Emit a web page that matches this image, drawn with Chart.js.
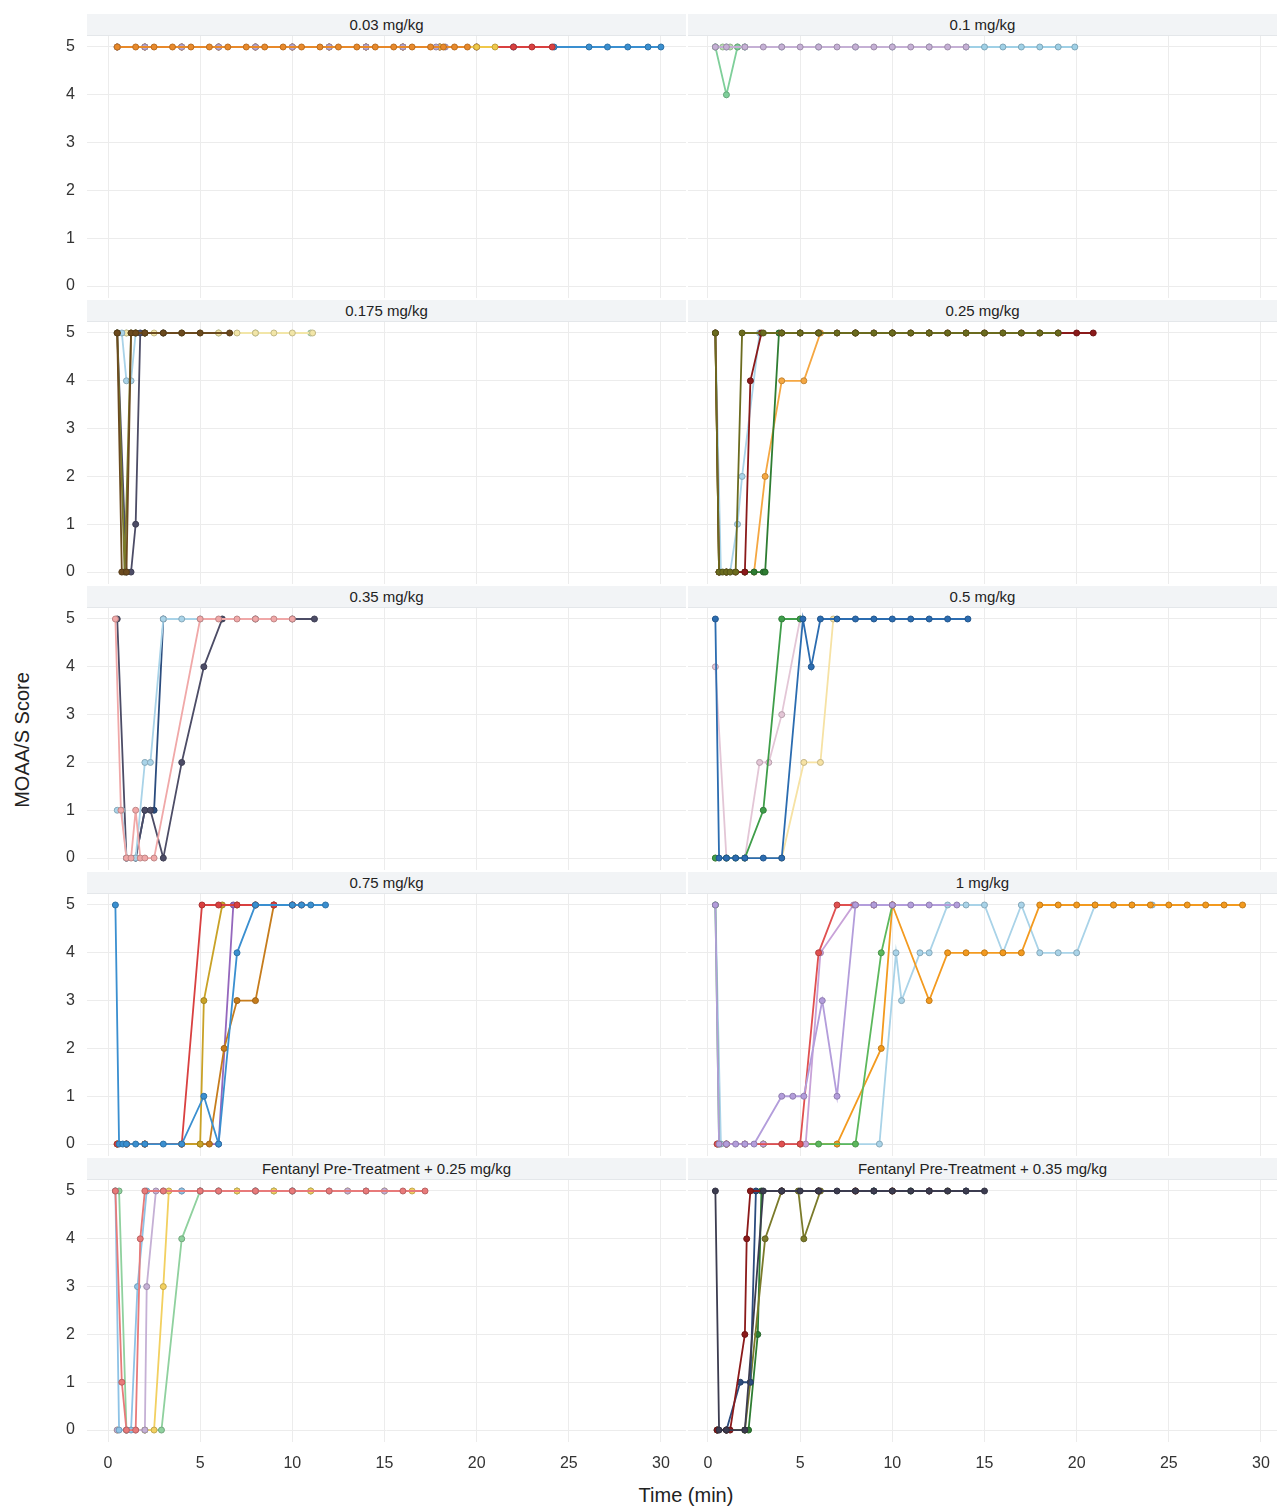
<!DOCTYPE html>
<html><head><meta charset="utf-8">
<script src="https://cdn.jsdelivr.net/npm/chart.js@4.4.0/dist/chart.umd.min.js"></script>
<style>
body{margin:0;background:#fff;width:1277px;height:1509px;position:relative;font-family:"Liberation Sans",Arial,sans-serif;overflow:hidden}
.hdr{position:absolute;height:21px;background:#f2f4f6;border-bottom:1px solid #e4e7ea;font-size:15px;color:#222;text-align:center;line-height:21px}
canvas{position:absolute}
.lab{position:absolute;color:#222}
</style></head><body>
<div class="lab" style="left:0;top:740px;transform:translate(-50%,-50%) rotate(-90deg);margin-left:22px;font-size:20px;white-space:nowrap">MOAA/S Score</div>
<div class="lab" style="left:686px;top:1495px;transform:translate(-50%,-50%);font-size:20px">Time (min)</div>
<script>
const panelTitles=["0.03 mg/kg","0.1 mg/kg","0.175 mg/kg","0.25 mg/kg","0.35 mg/kg","0.5 mg/kg","0.75 mg/kg","1 mg/kg","Fentanyl Pre-Treatment + 0.25 mg/kg","Fentanyl Pre-Treatment + 0.35 mg/kg"];
const xTicks=[0,5,10,15,20,25,30];
const yTicks=[0,1,2,3,4,5];

// Panel 1: 0.03 mg/kg (first series drawn on top)
const p1Colors=["#e8892a","#b9a6cf","#f0c84a","#d94040","#3a8fd0"];
const p1Times=[
 [0.5,1.5,2.5,3.5,4.5,5.5,6.5,7.5,8.5,9.5,10.5,11.5,12.5,13.5,14.5,15.5,16.5,17.5,18.2,18.8,19.5],
 [0.5,2,4,6,8,10,12,14,16,17.8,18.3],
 [0.5,2,4,6,8,10,12,14,16,18,20,21],
 [0.5,2,4,6,8,10,12,14,16,18,20,22,23,24.1],
 [0.5,2,4,6,8,10,12,14,16,18,20,22,24.2,26.1,27.1,28.2,29.3,30]];
const p1Scores=[
 [5,5,5,5,5,5,5,5,5,5,5,5,5,5,5,5,5,5,5,5,5],
 [5,5,5,5,5,5,5,5,5,5,5],
 [5,5,5,5,5,5,5,5,5,5,5,5],
 [5,5,5,5,5,5,5,5,5,5,5,5,5,5],
 [5,5,5,5,5,5,5,5,5,5,5,5,5,5,5,5,5,5]];

// Panel 2: 0.1 mg/kg
const p2Colors=["#c5b0d5","#7fcf9a","#b8e0b0","#9fd0e6"];
const p2Times=[
 [0.4,1,2,3,4,5,6,7,8,9,10,11,12,13,14],
 [0.4,1,1.6,2],
 [0.4,0.8,1.2,1.6],
 [0.4,1,2,4,6,8,10,12,14,15,16,17,18,19,19.9]];
const p2Scores=[
 [5,5,5,5,5,5,5,5,5,5,5,5,5,5,5],
 [5,4,5,5],
 [5,5,5,5],
 [5,5,5,5,5,5,5,5,5,5,5,5,5,5,5]];

// Panel 3: 0.175 mg/kg
const p3Colors=["#6b4a1e","#7a7a2a","#4c4c66","#a9d3e8","#f2e6a8","#bfe3b8"];
const p3Times=[
 [0.5,0.75,1,1.25,1.5,2,3,4,5,6.6],
 [0.5,0.9,1.25,1.5,2],
 [0.5,1,1.25,1.5,1.75,2,3],
 [0.5,0.75,1,1.25,1.5,2],
 [0.5,1,1.5,2,2.5,3,4,5,6,7,8,9,10,11.1],
 [0.5,1,2,3,4,6,8,11]];
const p3Scores=[
 [5,0,0,5,5,5,5,5,5,5],
 [5,0,5,5,5],
 [5,0,0,1,5,5,5],
 [5,5,4,4,5,5],
 [5,5,5,5,5,5,5,5,5,5,5,5,5,5],
 [5,5,5,5,5,5,5,5]];

// Panel 4: 0.25 mg/kg
const p4Colors=["#6b6b1e","#8b1a1a","#a9d3e8","#2e7d32","#f5a742"];
const p4Times=[
 [0.4,0.6,0.8,1,1.2,1.5,1.85,3,4,5,6,7,8,9,10,11,12,13,14,15,16,17,18,19],
 [0.4,0.6,1,1.5,2,2.3,2.9,4,5,6,7,8,9,10,11,12,13,14,15,16,17,18,19,20,20.9],
 [0.4,0.7,1,1.2,1.6,1.85,2.8,4,5,6],
 [0.4,0.6,1,2,2.5,3,3.1,3.85,5,6,8,10,12],
 [0.4,0.6,1,2,2.5,3.1,4,5.2,6.1,8,10,12,14]];
const p4Scores=[
 [5,0,0,0,0,0,5,5,5,5,5,5,5,5,5,5,5,5,5,5,5,5,5,5],
 [5,0,0,0,0,4,5,5,5,5,5,5,5,5,5,5,5,5,5,5,5,5,5,5,5],
 [5,0,0,0,1,2,5,5,5,5],
 [5,0,0,0,0,0,0,5,5,5,5,5,5],
 [5,0,0,0,0,2,4,4,5,5,5,5,5]];

// Panel 5: 0.35 mg/kg
const p5Colors=["#f0a8a8","#a9d3e8","#4c4c66","#2b4c7e"];
const p5Times=[
 [0.4,0.7,1,1.25,1.5,1.75,2,2.5,5,6,7,8,9,10],
 [0.5,0.75,1,1.5,2,2.3,3,4,5],
 [0.5,1,1.5,2,2.3,3,4,5.2,6.2,8,10,11.2],
 [1,1.5,2,2.5,3]];
const p5Scores=[
 [5,1,0,0,1,0,0,0,5,5,5,5,5,5],
 [1,1,0,0,2,2,5,5,5],
 [5,0,0,1,1,0,2,4,5,5,5,5],
 [0,0,1,1,5]];

// Panel 6: 0.5 mg/kg
const p6Colors=["#2b6cb0","#3f9e4a","#e3c6d6","#f6e2a4"];
const p6Times=[
 [0.4,0.6,1,1.5,2,3,4,5.15,5.6,6.1,7,8,9,10,11,12,13,14.1],
 [0.4,1,1.5,2,3,4,5],
 [0.4,1,2,2.8,3.3,4,5],
 [0.4,1,2,4,5.2,6.1,6.8]];
const p6Scores=[
 [5,0,0,0,0,0,0,5,4,5,5,5,5,5,5,5,5,5],
 [0,0,0,0,1,5,5],
 [4,0,0,2,2,3,5],
 [0,0,0,0,2,2,5]];

// Panel 7: 0.75 mg/kg
const p7Colors=["#3a8fd0","#d94040","#c9a227","#c67c1c","#9467bd"];
const p7Times=[
 [0.4,0.6,0.8,1,1.5,2,3,4,5.2,6,7,8,10,10.5,11,11.8],
 [0.5,1,2,4,5.1,6,7,8,9,10,10.5],
 [0.5,1,2,4,5,5.2,6.2,7,8],
 [0.5,1,2,4,5,5.5,6.3,7,8,9,10],
 [0.5,1,6,6.8,8,9,10]];
const p7Scores=[
 [5,0,0,0,0,0,0,0,1,0,4,5,5,5,5,5],
 [0,0,0,0,5,5,5,5,5,5,5],
 [0,0,0,0,0,3,5,5,5],
 [0,0,0,0,0,0,2,3,3,5,5],
 [0,0,0,5,5,5,5]];

// Panel 8: 1 mg/kg
const p8Colors=["#b39ddb","#e05050","#c8a2d8","#5cb85c","#f39a1f","#a9d3e8"];
const p8Times=[
 [0.4,0.6,1,1.5,2,2.5,4,4.6,5.2,6.2,7,8,9,10,11,12,13.5],
 [0.5,1,2,4,5,6,7,8,9,10],
 [0.5,1,3,5.3,6.1,7.9,9,10],
 [0.4,0.6,1,3,6,8,9.4,10],
 [0.5,1,3,5,7,9.4,10,12,13,14,15,16,17,18,19,20,21,22,23,24,25,26,27,28,29],
 [0.4,0.7,1,2,5,7,9.3,10.2,10.5,11.5,12,13,14,15,16,17,18,19,20,21,22,23,24.1]];
const p8Scores=[
 [5,0,0,0,0,0,1,1,1,3,1,5,5,5,5,5,5],
 [0,0,0,0,0,4,5,5,5,5],
 [0,0,0,0,4,5,5,5],
 [5,0,0,0,0,0,4,5],
 [0,0,0,0,0,2,5,3,4,4,4,4,4,5,5,5,5,5,5,5,5,5,5,5,5],
 [5,0,0,0,0,0,0,4,3,4,4,5,5,5,4,5,4,4,4,5,5,5,5]];

// Panel 9: Fentanyl + 0.25 mg/kg
const p9Colors=["#e87a7a","#8ec3e6","#c5b0d5","#f2d060","#8fd19e"];
const p9Times=[
 [0.4,0.75,1,1.5,1.75,2,3,5,6,8,10,12,14,16,17.2],
 [0.4,0.6,1,1.25,1.6,2.1,3,4,5,6,8,10,12,14],
 [0.5,1,1.5,2,2.1,2.6,4,5,8,10,13,15],
 [0.5,1,2,2.5,3,3.3,5,7,9,11,13,15,16.5],
 [0.4,0.6,1,2,2.9,4,5,6,7,8,9,10,11]];
const p9Scores=[
 [5,1,0,0,4,5,5,5,5,5,5,5,5,5,5],
 [5,0,0,0,3,5,5,5,5,5,5,5,5,5],
 [0,0,0,0,3,5,5,5,5,5,5,5],
 [0,0,0,0,3,5,5,5,5,5,5,5,5],
 [5,5,0,0,0,4,5,5,5,5,5,5,5]];

// Panel 10: Fentanyl + 0.35 mg/kg
const p10Colors=["#3c3c50","#8b1a1a","#2b4c7e","#7a7a2a","#2e7d32"];
const p10Times=[
 [0.4,0.6,1,2,3,4,5,6,7,8,9,10,11,12,13,14,15],
 [0.5,1,1.2,2,2.1,2.3,4,6,8,10,12],
 [0.5,1,1.75,2.3,2.6,4,6,9,12,14],
 [0.5,1,2,2.3,3.1,4,4.9,5.2,6.1,8,10,13],
 [0.5,1,2,2.2,2.7,2.9,4,6,9,11]];
const p10Scores=[
 [5,0,0,0,5,5,5,5,5,5,5,5,5,5,5,5,5],
 [0,0,0,2,4,5,5,5,5,5,5],
 [0,0,1,1,5,5,5,5,5,5],
 [0,0,0,1,4,5,5,4,5,5,5,5],
 [0,0,0,0,2,5,5,5,5,5]];

const panels=[[p1Times,p1Scores,p1Colors],[p2Times,p2Scores,p2Colors],[p3Times,p3Scores,p3Colors],[p4Times,p4Scores,p4Colors],[p5Times,p5Scores,p5Colors],[p6Times,p6Scores,p6Colors],[p7Times,p7Scores,p7Colors],[p8Times,p8Scores,p8Colors],[p9Times,p9Scores,p9Colors],[p10Times,p10Scores,p10Colors]];

function shade(hex,f){const n=parseInt(hex.slice(1),16);let r=n>>16,g=(n>>8)&255,b=n&255;r=Math.round(r*f);g=Math.round(g*f);b=Math.round(b*f);return `rgb(${r},${g},${b})`;}

panels.forEach((p,i)=>{
  const col=i%2,row=Math.floor(i/2);
  const rowTop=14+row*286;
  const left=col===0;
  const bottom=row===4;
  const plotL=left?87:688, plotR=left?686:1277;
  const h=document.createElement('div');h.className='hdr';
  h.style.left=plotL+'px';h.style.width=(plotR-plotL)+'px';h.style.top=rowTop+'px';h.textContent=panelTitles[i];
  document.body.appendChild(h);
  const cv=document.createElement('canvas');
  const cL=left?40:688;
  const cH=262+(bottom?40:0);
  cv.style.left=cL+'px';cv.style.top=(rowTop+22)+'px';
  cv.style.width=(plotR-cL)+'px';cv.style.height=cH+'px';
  cv.width=plotR-cL;cv.height=cH;
  document.body.appendChild(cv);
  const [T,S,C]=p;
  const datasets=T.map((t,k)=>({
    data:t.map((x,j)=>({x:x,y:S[k][j]})),
    borderColor:C[k],backgroundColor:C[k],pointBorderColor:shade(C[k],0.8),
    borderWidth:1.8,pointRadius:3,pointBorderWidth:1,tension:0
  }));
  const xmin=left?-1.14:-1.085, xmax=left?31.36:30.87;
  new Chart(cv,{type:'line',data:{datasets},options:{
    responsive:false,animation:false,devicePixelRatio:1,
    layout:{padding:0,autoPadding:false},
    plugins:{legend:{display:false},tooltip:{enabled:false}},
    scales:{
      x:{type:'linear',min:xmin,max:xmax,
        afterBuildTicks:a=>{a.ticks=xTicks.map(v=>({value:v}));},
        afterFit:a=>{a.height=bottom?40:0;a.paddingLeft=0;a.paddingRight=0;},
        grid:{color:'#ececec',drawTicks:false},border:{display:false},
        ticks:{display:bottom,color:'#333',font:{size:16,family:'Liberation Sans'},padding:12,maxRotation:0}},
      y:{type:'linear',min:-0.25,max:5.23,
        afterBuildTicks:a=>{a.ticks=yTicks.map(v=>({value:v}));},
        afterFit:a=>{a.width=left?47:0;a.paddingTop=0;a.paddingBottom=0;},
        grid:{color:'#ececec',drawTicks:false},border:{display:false},
        ticks:{display:left,color:'#333',font:{size:16,family:'Liberation Sans'},padding:12}}
    }}});
});
</script>
</body></html>
